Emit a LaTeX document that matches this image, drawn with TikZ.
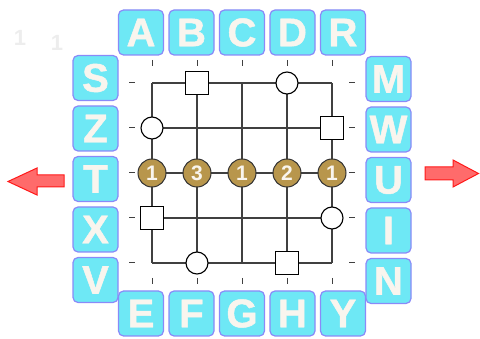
\documentclass[tikz,border=0pt]{standalone}
\usepackage{fontspec}
\setmainfont{Liberation Sans}
\newfontfamily\tilefont[FakeBold=1.2]{Liberation Sans Bold}
\usetikzlibrary{positioning, calc}

\definecolor{tilecyan}{HTML}{6EE8F5}
\definecolor{tileedge}{HTML}{8A8AF8}
\definecolor{tileletter}{HTML}{F9F5EE}
\definecolor{beadbrown}{HTML}{B8964C}
\definecolor{arrowred}{HTML}{FF6B6B}

\begin{document}
\begin{tikzpicture}[
  x=1pt, y=-1pt,
  tile/.style={draw=tileedge, fill=tilecyan, line width=1.2pt, rounded corners=5pt,
    minimum size=45pt, inner sep=0pt, text=tileletter,
    font=\fontsize{40}{40}\tilefont},
  gridline/.style={draw=black!75, line width=1.3pt},
  tickmark/.style={draw=black!75, line width=1pt},
  sq/.style={draw, fill=white, line width=1.1pt, minimum size=23pt, inner sep=0pt},
  ring/.style={draw, fill=white, circle, line width=1.1pt, minimum size=22pt, inner sep=0pt},
  bead/.style={draw=black!80, fill=beadbrown, circle, line width=1pt, minimum size=28pt,
    inner sep=0pt, text=tileletter, font=\fontsize{21}{21}\selectfont\bfseries},
  bigarrow/.style={draw=red!90, fill=arrowred, line width=1pt},
  ghost/.style={text=black!7, font=\fontsize{22}{22}\selectfont\bfseries},
]
\useasboundingbox (0,0) rectangle (480,339);

% === faint marks ===
\node[ghost] (g1) at (20,38) {1};
\node[ghost] (g2) at (57,43) {1};

% === board ===
\foreach \c in {0,...,4}
  \foreach \r in {0,...,4}
    \coordinate (p\c\r) at (152+45*\c, 83+45*\r);

\foreach \i in {0,...,4} {
  \draw[gridline] (p\i0) -- (p\i4);
  \draw[gridline] (p0\i) -- (p4\i);
  \draw[tickmark] ($(p\i0)+(0,-23)$) -- ++(0,6);
  \draw[tickmark] ($(p\i4)+(0,15)$) -- ++(0,6);
  \draw[tickmark] ($(p0\i)+(-23,0)$) -- ++(6,0);
  \draw[tickmark] ($(p4\i)+(17,0)$) -- ++(6,0);
}

\node[sq]   (s1) at (p10) {};
\node[ring] (c1) at (p30) {};
\node[ring] (c2) at (p01) {};
\node[sq]   (s2) at (p41) {};
\node[sq]   (s3) at (p03) {};
\node[ring] (c3) at (p43) {};
\node[ring] (c4) at (p14) {};
\node[sq]   (s4) at (p34) {};

\foreach \n [count=\c from 0] in {1,3,1,2,1}
  \node[bead] (b\c) at (p\c2) {\n};

% === letter tiles ===
\foreach \t [count=\i from 0] in {A,B,C,D,R}
  \node[tile] (top\t) at (141+50.5*\i, 32.5) {\t};
\foreach \t [count=\i from 0] in {E,F,G,H,Y}
  \node[tile] (bot\t) at (141+50.5*\i, 313.5) {\t};
\foreach \t [count=\i from 0] in {S,Z,T,X,V}
  \node[tile] (lft\t) at (95.5, 78+50.5*\i) {\t};
\foreach \t [count=\i from 0] in {M,W,U,I,N}
  \node[tile] (rgt\t) at (388.5, 79+50.5*\i) {\t};

% === arrows ===
\draw[bigarrow] (8,181.5) -- (37,168) -- (37,175) -- (64,175) -- (64,187)
  -- (37,187) -- (37,195) -- cycle;
\draw[bigarrow] (478.5,173.5) -- (453,160) -- (453,167) -- (425,167) -- (425,180)
  -- (453,180) -- (453,187) -- cycle;

\end{tikzpicture}
\end{document}
